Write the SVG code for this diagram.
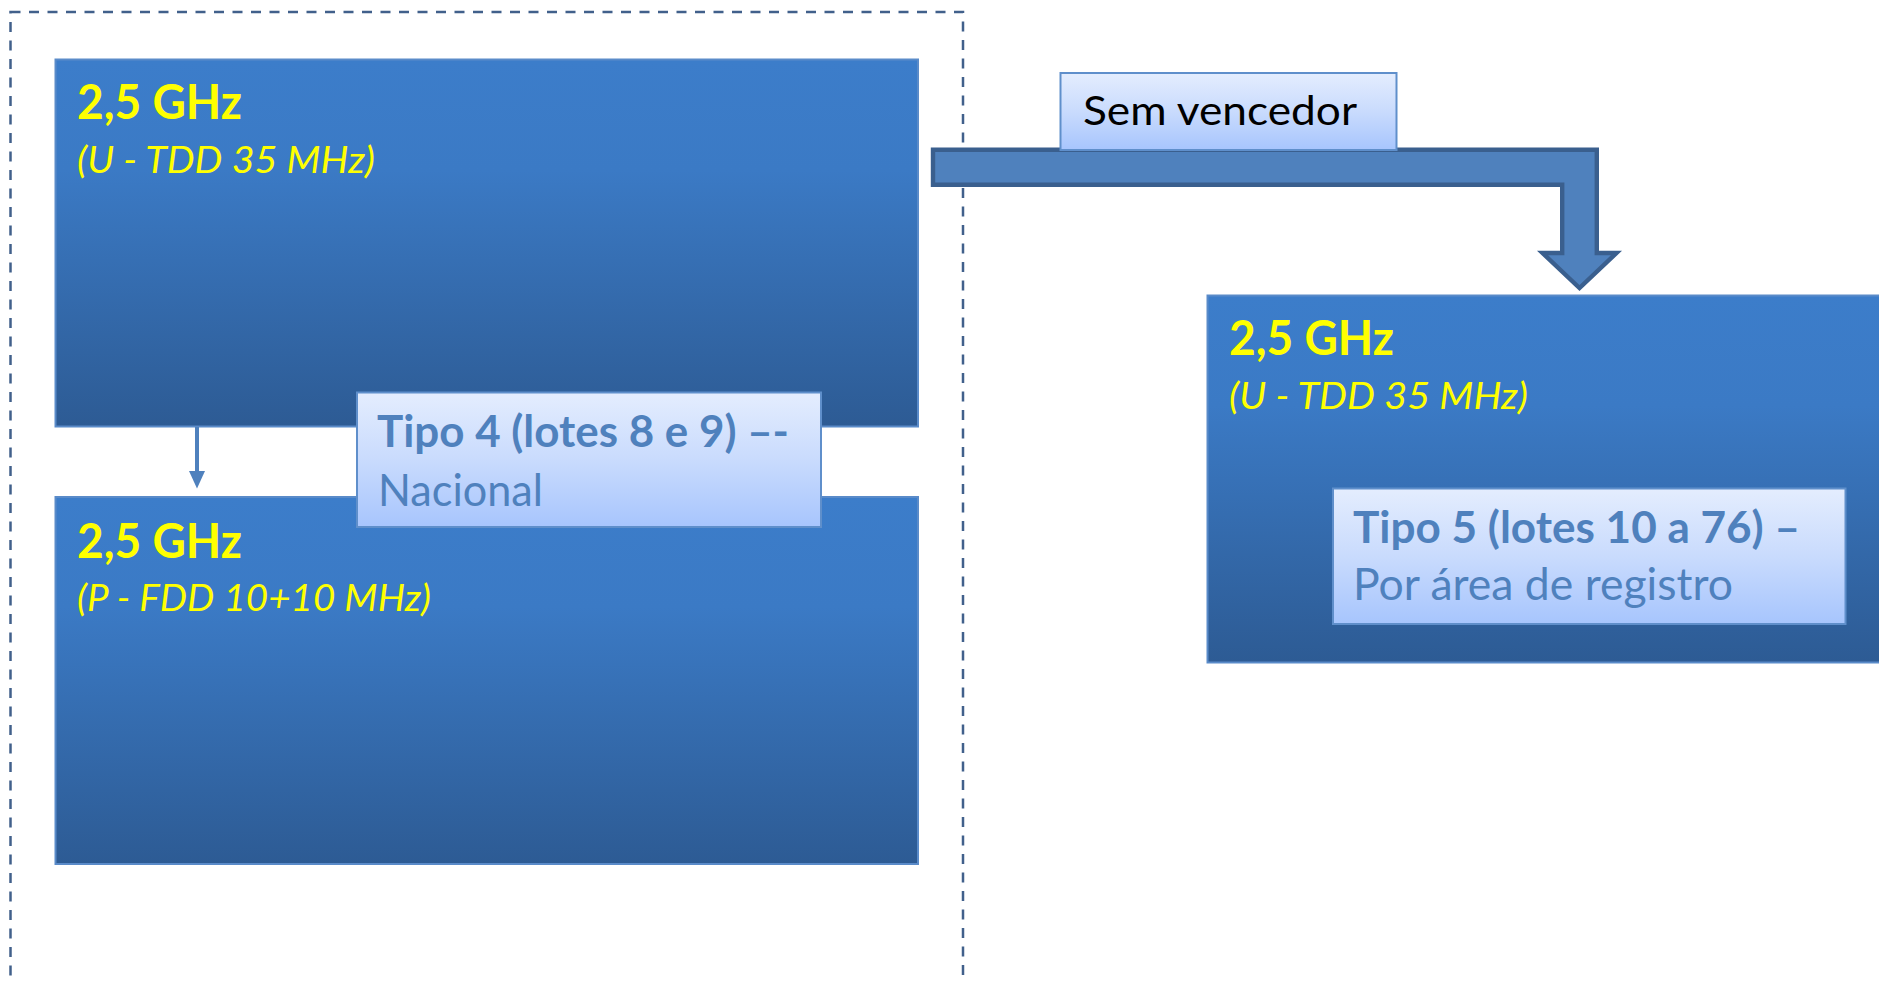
<svg xmlns="http://www.w3.org/2000/svg" width="1879" height="983" viewBox="0 0 1879 983">
  <defs>
    <linearGradient id="gBox" x1="0" y1="0" x2="0" y2="1">
      <stop offset="0" stop-color="#3c7dca"/>
      <stop offset="0.3" stop-color="#3b7ac5"/>
      <stop offset="1" stop-color="#2d5b94"/>
    </linearGradient>
    <linearGradient id="gLabel" x1="0" y1="0" x2="0" y2="1">
      <stop offset="0" stop-color="#e4edfe"/>
      <stop offset="0.5" stop-color="#c9dbfd"/>
      <stop offset="1" stop-color="#a7c5fd"/>
    </linearGradient>
    <style>
      .box { fill: url(#gBox); stroke: #5a8bc9; stroke-width: 2; }
      .label { fill: url(#gLabel); stroke: #5f8fcb; stroke-width: 2; }
      .ghz { font-family: Lato, "Liberation Sans", sans-serif; font-weight: bold; font-size: 47px; fill: #ffff00; }
      .sub { font-family: Lato, "Liberation Sans", sans-serif; font-style: italic; font-size: 37px; fill: #ffff00; }
      .ltb { font-family: Lato, "Liberation Sans", sans-serif; font-weight: bold; font-size: 44px; fill: #4f81bd; }
      .lt { font-family: Lato, "Liberation Sans", sans-serif; font-size: 44px; fill: #4f81bd; }
      .blk { font-family: Lato, "Liberation Sans", sans-serif; font-size: 40px; fill: #000000; }
      .frame { fill: none; stroke: #41608b; stroke-width: 2.5; stroke-dasharray: 10 8.5; }
      .bent { fill: #4f81bd; stroke: #3a5f8e; stroke-width: 4.4; stroke-linejoin: miter; }
      .thin { stroke: #4f81bd; stroke-width: 4; fill: none; }
      .head { fill: #4f81bd; }
    </style>
  </defs>

  <g id="frame">
    <rect class="frame" x="10.5" y="12" width="952.5" height="1000"/>
  </g>

  <g id="node-top">
    <rect class="box" x="55.5" y="59.5" width="862.5" height="367"/>
    <text class="ghz" x="77" y="119" textLength="165" lengthAdjust="spacingAndGlyphs">2,5 GHz</text>
    <text class="sub" x="77" y="173" textLength="298" lengthAdjust="spacingAndGlyphs">(U - TDD 35 MHz)</text>
  </g>

  <g id="node-bottom">
    <rect class="box" x="55.5" y="497" width="862.5" height="367"/>
    <text class="ghz" x="77" y="557.5" textLength="165" lengthAdjust="spacingAndGlyphs">2,5 GHz</text>
    <text class="sub" x="77" y="611" textLength="354" lengthAdjust="spacingAndGlyphs">(P - FDD 10+10 MHz)</text>
  </g>

  <g id="node-right">
    <rect class="box" x="1207.5" y="295.5" width="690" height="367"/>
    <text class="ghz" x="1229" y="355" textLength="165" lengthAdjust="spacingAndGlyphs">2,5 GHz</text>
    <text class="sub" x="1229" y="409" textLength="299" lengthAdjust="spacingAndGlyphs">(U - TDD 35 MHz)</text>
  </g>

  <g id="connectors">
    <path class="bent" d="M933,149.7 L1596.8,149.7 L1596.8,253 L1616.5,253 L1579.5,288 L1542.5,253 L1562.2,253 L1562.2,184.8 L933,184.8 Z"/>
    <line class="thin" x1="197" y1="427" x2="197" y2="472"/>
    <polygon class="head" points="189,471 205,471 197,488.5"/>
  </g>

  <g id="label-tipo4">
    <rect class="label" x="357" y="392.5" width="464" height="134.5"/>
    <text class="ltb" x="377" y="446.5" textLength="412" lengthAdjust="spacingAndGlyphs">Tipo 4 (lotes 8 e 9) –-</text>
    <text class="lt" x="378" y="506" textLength="165" lengthAdjust="spacingAndGlyphs">Nacional</text>
  </g>

  <g id="label-sem-vencedor">
    <rect class="label" x="1060.5" y="73" width="336" height="77"/>
    <text class="blk" x="1083" y="125" textLength="274" lengthAdjust="spacingAndGlyphs">Sem vencedor</text>
  </g>

  <g id="label-tipo5">
    <rect class="label" x="1333" y="488.5" width="512.5" height="135.5"/>
    <text class="ltb" x="1353" y="543" textLength="447" lengthAdjust="spacingAndGlyphs">Tipo 5 (lotes 10 a 76) –</text>
    <text class="lt" x="1353" y="600" textLength="380" lengthAdjust="spacingAndGlyphs">Por área de registro</text>
  </g>
</svg>
